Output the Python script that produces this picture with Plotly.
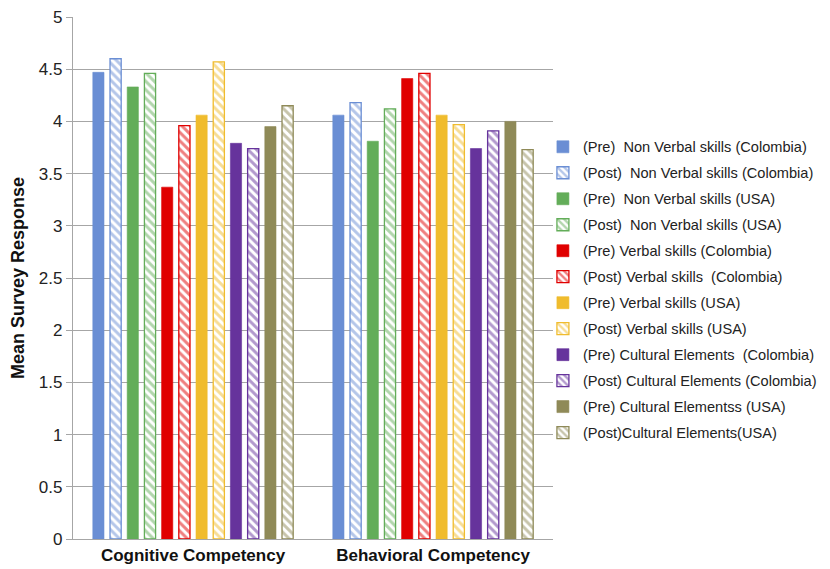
import plotly.graph_objects as go

categories = ["Cognitive Competency", "Behavioral Competency"]
series_names = [
    "(Pre)  Non Verbal skills (Colombia)",
    "(Post)  Non Verbal skills (Colombia)",
    "(Pre)  Non Verbal skills (USA)",
    "(Post)  Non Verbal skills (USA)",
    "(Pre) Verbal skills (Colombia)",
    "(Post) Verbal skills  (Colombia)",
    "(Pre) Verbal skills (USA)",
    "(Post) Verbal skills (USA)",
    "(Pre) Cultural Elements  (Colombia)",
    "(Post) Cultural Elements (Colombia)",
    "(Pre) Cultural Elementss (USA)",
    "(Post)Cultural Elements(USA)",
]
cognitive = [4.47, 4.60, 4.33, 4.46, 3.37, 3.96, 4.06, 4.57, 3.79, 3.74, 3.95, 4.15]
behavioral = [4.06, 4.18, 3.81, 4.12, 4.41, 4.46, 4.06, 3.97, 3.74, 3.91, 4.00, 3.73]
colors = ["#6a8ed4", "#6a8ed4", "#63ad59", "#63ad59", "#e00000", "#e00000",
          "#f0bc2d", "#f0bc2d", "#66339c", "#66339c", "#8f8a58", "#8f8a58"]

fig = go.Figure()
for i, name in enumerate(series_names):
    post = i % 2 == 1
    c = colors[i]
    marker = dict(color="white" if post else c, line=dict(color=c, width=1.3 if post else 0.6))
    if post:
        marker["pattern"] = dict(shape="\\", fgcolor=c, bgcolor="white", size=6, solidity=0.5)
    fig.add_trace(go.Bar(
        x=categories, y=[cognitive[i], behavioral[i]], name=name,
        marker=marker, legendgroup=f"g{i}",
    ))

fig.update_layout(
    width=822, height=561,
    margin=dict(l=65, r=277, t=9, b=30, autoexpand=False),
    paper_bgcolor="white", plot_bgcolor="white",
    barmode="group", bargap=0.14, bargroupgap=0.35,
    font=dict(family="Liberation Sans, Arial, sans-serif", size=15, color="#222"),
    showlegend=True,
    legend=dict(
        x=0.979, xanchor="left", y=0.782, yanchor="top",
        font=dict(size=14.6, color="#222"), bgcolor="rgba(0,0,0,0)",
        traceorder="grouped", tracegroupgap=4, itemwidth=30,
    ),
    yaxis=dict(
        range=[0, 5], dtick=0.5, showgrid=True, gridcolor="#a6a6a6", gridwidth=1.3,
        showline=True, linecolor="#a6a6a6", linewidth=1.3, ticks="outside",
        ticklen=6, tickcolor="#a6a6a6", tickfont=dict(size=17, color="#222"),
        ticklabeloverflow="allow",
        title=dict(text="<b>Mean Survey Response</b>", font=dict(size=18, color="#111"), standoff=10),
        zeroline=False, automargin=False,
    ),
    xaxis=dict(
        showline=True, linecolor="#a6a6a6", linewidth=1.3, ticks="",
        tickfont=dict(size=17, color="#111"), automargin=False,
        ticklabeloverflow="allow",
        tickvals=categories, ticktext=[f"<b>{c}</b>" for c in categories],
    ),
)

fig.write_html("out.html")
